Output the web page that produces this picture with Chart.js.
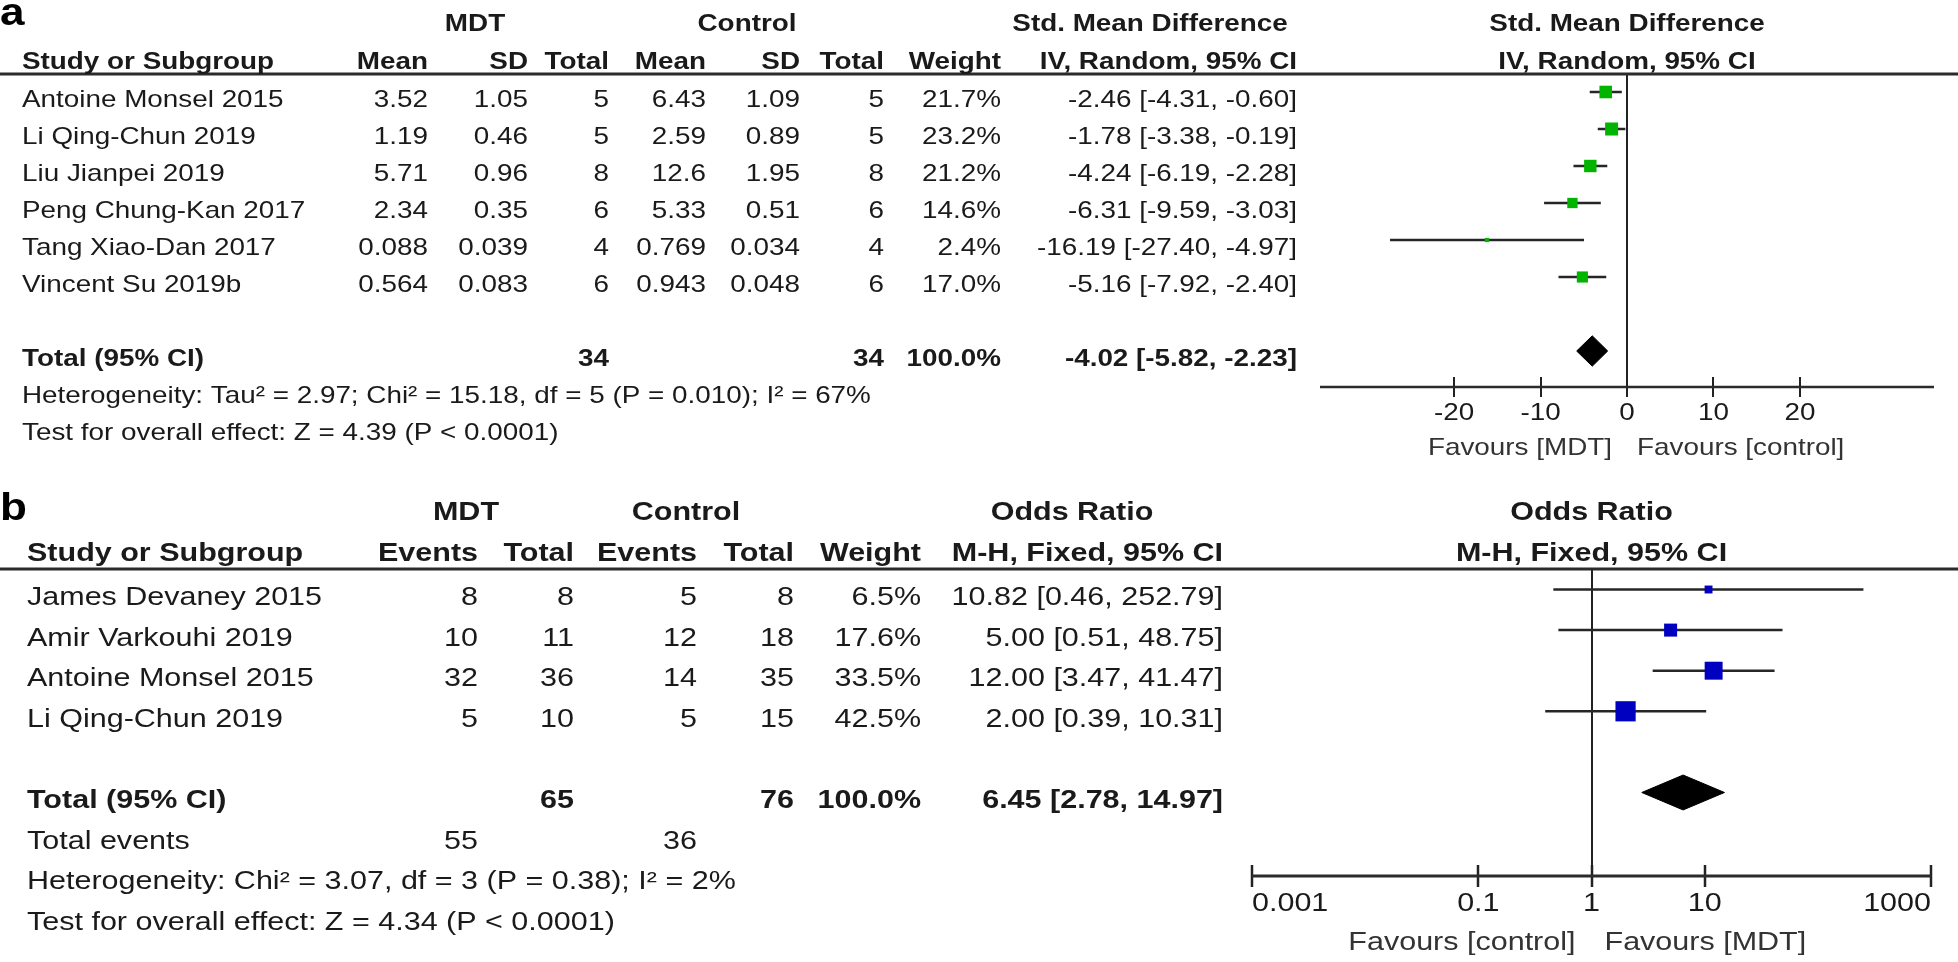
<!DOCTYPE html>
<html><head><meta charset="utf-8">
<script src="https://cdn.jsdelivr.net/npm/chart.js@4.4.0/dist/chart.umd.min.js"></script>
<style>
html,body{margin:0;padding:0;background:#fff;}
#wrap{position:relative;width:1958px;height:962px;overflow:hidden;background:#fff;}
.pan{position:absolute;left:0;width:1958px;}
canvas{display:block;}
</style></head><body>
<div id="wrap">
<div class="pan" style="top:0;height:480px"><canvas id="ca" width="1958" height="480"></canvas></div>
<div class="pan" style="top:480px;height:482px"><canvas id="cb" width="1958" height="482"></canvas></div>
</div>
<script>
// ---------- Panel a data ----------
const studiesA = ['Antoine Monsel 2015','Li Qing-Chun 2019','Liu Jianpei 2019','Peng Chung-Kan 2017','Tang Xiao-Dan 2017','Vincent Su 2019b'];
const mdtMeanA = ['3.52','1.19','5.71','2.34','0.088','0.564'];
const mdtSdA   = ['1.05','0.46','0.96','0.35','0.039','0.083'];
const mdtNA    = [5,5,8,6,4,6];
const ctlMeanA = ['6.43','2.59','12.6','5.33','0.769','0.943'];
const ctlSdA   = ['1.09','0.89','1.95','0.51','0.034','0.048'];
const ctlNA    = [5,5,8,6,4,6];
const weightA  = [21.7,23.2,21.2,14.6,2.4,17.0];
const smdA     = [-2.46,-1.78,-4.24,-6.31,-16.19,-5.16];
const loA      = [-4.31,-3.38,-6.19,-9.59,-27.40,-7.92];
const hiA      = [-0.60,-0.19,-2.28,-3.03,-4.97,-2.40];
const totalA   = [-4.02,-5.82,-2.23]; // estimate, lower, upper
const ticksA   = [-20,-10,0,10,20];
const tickLabelsA = ['-20','-10','0','10','20'];
const hetA  = 'Heterogeneity: Tau\u00B2 = 2.97; Chi\u00B2 = 15.18, df = 5 (P = 0.010); I\u00B2 = 67%';
const testA = 'Test for overall effect: Z = 4.39 (P < 0.0001)';

// ---------- Panel b data ----------
const studiesB = ['James Devaney 2015','Amir Varkouhi 2019','Antoine Monsel 2015','Li Qing-Chun 2019'];
const mdtEvB  = [8,10,32,5];
const mdtNB   = [8,11,36,10];
const ctlEvB  = [5,12,14,5];
const ctlNB   = [8,18,35,15];
const weightB = [6.5,17.6,33.5,42.5];
const orB     = [10.82,5.00,12.00,2.00];
const loB     = [0.46,0.51,3.47,0.39];
const hiB     = [252.79,48.75,41.47,10.31];
const totalB  = [6.45,2.78,14.97];
const ticksB  = [0.001,0.1,1,10,1000];
const tickLabelsB = ['0.001','0.1','1','10','1000'];
const hetB  = 'Heterogeneity: Chi\u00B2 = 3.07, df = 3 (P = 0.38); I\u00B2 = 2%';
const testB = 'Test for overall effect: Z = 4.34 (P < 0.0001)';

// ---------- styling / layout ----------
const SX = 1.16;
const FONT = '"Liberation Sans", Arial, Helvetica, sans-serif';
const INK = '#1a1a1a';
const sum = a => a.reduce((p,c)=>p+c,0);
const f2 = v => v.toFixed(2);
const ciText = (e,l,h) => f2(e)+' ['+f2(l)+', '+f2(h)+']';

function txt(ctx, s, x, y, align, size, bold, color) {
  ctx.save();
  ctx.font = (bold ? 'bold ' : '') + size + 'px ' + FONT;
  ctx.fillStyle = color || INK;
  ctx.textAlign = align;
  ctx.textBaseline = 'middle';
  ctx.scale(SX, 1);
  ctx.fillText(s, x / SX, y);
  ctx.restore();
}
function letter(ctx, s, y) {
  ctx.save();
  ctx.font = 'bold 38px ' + FONT;
  ctx.fillStyle = '#000';
  ctx.textBaseline = 'alphabetic';
  ctx.textAlign = 'left';
  ctx.scale(SX, 1);
  ctx.fillText(s, 0, y);
  ctx.restore();
}

const colA = {m1:428, s1:528, n1:609, m2:706, s2:800, n2:884, w:1001, ci:1297};
const colB = {e1:478, n1:574, e2:697, n2:794, w:921, ci:1223};

function lineSets(est, lo, hi) {
  return est.map((e,i)=>({
    type:'line', data:[{x:lo[i],y:i},{x:hi[i],y:i}],
    borderColor:'#262626', borderWidth:2.5, pointRadius:0, fill:false, order:2
  }));
}
function diamondSets(t, row, h) {
  return [
    {type:'line', data:[{x:t[1],y:row},{x:t[0],y:row-h},{x:t[2],y:row}], borderColor:'#000', borderWidth:1, pointRadius:0, fill:false, order:1},
    {type:'line', data:[{x:t[1],y:row},{x:t[0],y:row+h},{x:t[2],y:row}], borderColor:'#000', borderWidth:1, pointRadius:0, fill:'-1', backgroundColor:'#000', order:1}
  ];
}

// ---------- Panel a ----------
const textA = {
  id:'textA',
  afterDraw(chart) {
    const {ctx, chartArea: ca} = chart; const xs = chart.scales.x, ys = chart.scales.y;
    const F = 24, off = 8;
    const ry = i => ys.getPixelForValue(i) + off;
    ctx.save(); ctx.fillStyle = '#2b2b2b';
    ctx.fillRect(0, ca.top - 1.5, chart.width, 3);
    ctx.fillRect(xs.left, ca.bottom + 10 - 1.25, xs.right - xs.left, 2.5);
    ctx.restore();
    letter(ctx, 'a', 25);
    const pc = (xs.left + xs.right) / 2;
    txt(ctx,'MDT',475,24,'center',F,true);
    txt(ctx,'Control',747,24,'center',F,true);
    txt(ctx,'Std. Mean Difference',1150,24,'center',F,true);
    txt(ctx,'Std. Mean Difference',pc,24,'center',F,true);
    const h2 = 62;
    txt(ctx,'Study or Subgroup',22,h2,'left',F,true);
    txt(ctx,'Mean',colA.m1,h2,'right',F,true);
    txt(ctx,'SD',colA.s1,h2,'right',F,true);
    txt(ctx,'Total',colA.n1,h2,'right',F,true);
    txt(ctx,'Mean',colA.m2,h2,'right',F,true);
    txt(ctx,'SD',colA.s2,h2,'right',F,true);
    txt(ctx,'Total',colA.n2,h2,'right',F,true);
    txt(ctx,'Weight',colA.w,h2,'right',F,true);
    txt(ctx,'IV, Random, 95% CI',colA.ci,h2,'right',F,true);
    txt(ctx,'IV, Random, 95% CI',pc,h2,'center',F,true);
    studiesA.forEach((s,i)=>{
      const y = ry(i);
      txt(ctx,s,22,y,'left',F);
      txt(ctx,mdtMeanA[i],colA.m1,y,'right',F);
      txt(ctx,mdtSdA[i],colA.s1,y,'right',F);
      txt(ctx,String(mdtNA[i]),colA.n1,y,'right',F);
      txt(ctx,ctlMeanA[i],colA.m2,y,'right',F);
      txt(ctx,ctlSdA[i],colA.s2,y,'right',F);
      txt(ctx,String(ctlNA[i]),colA.n2,y,'right',F);
      txt(ctx,weightA[i].toFixed(1)+'%',colA.w,y,'right',F);
      txt(ctx,ciText(smdA[i],loA[i],hiA[i]),colA.ci,y,'right',F);
    });
    const yt = ry(7);
    txt(ctx,'Total (95% CI)',22,yt,'left',F,true);
    txt(ctx,String(sum(mdtNA)),colA.n1,yt,'right',F,true);
    txt(ctx,String(sum(ctlNA)),colA.n2,yt,'right',F,true);
    txt(ctx,'100.0%',colA.w,yt,'right',F,true);
    txt(ctx,ciText(totalA[0],totalA[1],totalA[2]),colA.ci,yt,'right',F,true);
    txt(ctx,hetA,22,ry(8),'left',F);
    txt(ctx,testA,22,ry(9),'left',F);
    ticksA.forEach((v,k)=>txt(ctx,tickLabelsA[k],xs.getPixelForValue(v),413,'center',F));
    const zx = xs.getPixelForValue(0);
    txt(ctx,'Favours [MDT]',zx-15,448,'right',F,false,'#333');
    txt(ctx,'Favours [control]',zx+10,448,'left',F,false,'#333');
  }
};

new Chart(document.getElementById('ca'), {
  type:'scatter',
  data:{ datasets:[
    {data:smdA.map((e,i)=>({x:e,y:i})), pointStyle:'rect',
     pointRadius:weightA.map(w=>2.7*Math.sqrt(w)/Math.SQRT2), pointHoverRadius:weightA.map(w=>2.7*Math.sqrt(w)/Math.SQRT2),
     backgroundColor:'#00b400', borderWidth:0, order:0},
    ...lineSets(smdA, loA, hiA),
    ...diamondSets(totalA, 7, 0.41)
  ]},
  options:{
    responsive:false, animation:false, devicePixelRatio:1, events:[],
    layout:{padding:{left:1320, right:24, top:74, bottom:83}},
    plugins:{legend:{display:false}, tooltip:{enabled:false}},
    scales:{
      x:{type:'linear', min:-35.5, max:35.5,
         afterBuildTicks:s=>{ s.ticks = ticksA.map(v=>({value:v})); },
         afterFit:s=>{ s.height = 20; },
         ticks:{display:false},
         grid:{color:c=>(c.tick && c.tick.value===0)?'#222':'rgba(0,0,0,0)', lineWidth:2,
               drawTicks:true, tickLength:20, tickColor:'#222', tickWidth:2},
         border:{display:false}},
      y:{type:'linear', reverse:true, min:-0.4865, max:7.7027, display:false, afterFit:s=>{ s.width = 0; }}
    }
  },
  plugins:[textA]
});

// ---------- Panel b ----------
const textB = {
  id:'textB',
  afterDraw(chart) {
    const {ctx, chartArea: ca} = chart; const xs = chart.scales.x, ys = chart.scales.y;
    const F = 26.3, off = 8.5;
    const ry = i => ys.getPixelForValue(i) + off;
    ctx.save(); ctx.fillStyle = '#2b2b2b';
    ctx.fillRect(0, ca.top - 1.5, chart.width, 3);
    ctx.fillRect(xs.left, ca.bottom + 11 - 1.5, xs.right - xs.left, 3);
    ctx.restore();
    letter(ctx, 'b', 40);
    const pc = xs.getPixelForValue(1);
    txt(ctx,'MDT',466,33,'center',F,true);
    txt(ctx,'Control',686,33,'center',F,true);
    txt(ctx,'Odds Ratio',1072,33,'center',F,true);
    txt(ctx,'Odds Ratio',pc,33,'center',F,true);
    const h2 = 74;
    txt(ctx,'Study or Subgroup',27,h2,'left',F,true);
    txt(ctx,'Events',colB.e1,h2,'right',F,true);
    txt(ctx,'Total',colB.n1,h2,'right',F,true);
    txt(ctx,'Events',colB.e2,h2,'right',F,true);
    txt(ctx,'Total',colB.n2,h2,'right',F,true);
    txt(ctx,'Weight',colB.w,h2,'right',F,true);
    txt(ctx,'M-H, Fixed, 95% CI',colB.ci,h2,'right',F,true);
    txt(ctx,'M-H, Fixed, 95% CI',pc,h2,'center',F,true);
    studiesB.forEach((s,i)=>{
      const y = ry(i);
      txt(ctx,s,27,y,'left',F);
      txt(ctx,String(mdtEvB[i]),colB.e1,y,'right',F);
      txt(ctx,String(mdtNB[i]),colB.n1,y,'right',F);
      txt(ctx,String(ctlEvB[i]),colB.e2,y,'right',F);
      txt(ctx,String(ctlNB[i]),colB.n2,y,'right',F);
      txt(ctx,weightB[i].toFixed(1)+'%',colB.w,y,'right',F);
      txt(ctx,ciText(orB[i],loB[i],hiB[i]),colB.ci,y,'right',F);
    });
    const yt = ry(5);
    txt(ctx,'Total (95% CI)',27,yt,'left',F,true);
    txt(ctx,String(sum(mdtNB)),colB.n1,yt,'right',F,true);
    txt(ctx,String(sum(ctlNB)),colB.n2,yt,'right',F,true);
    txt(ctx,'100.0%',colB.w,yt,'right',F,true);
    txt(ctx,ciText(totalB[0],totalB[1],totalB[2]),colB.ci,yt,'right',F,true);
    const ye = ry(6);
    txt(ctx,'Total events',27,ye,'left',F);
    txt(ctx,String(sum(mdtEvB)),colB.e1,ye,'right',F);
    txt(ctx,String(sum(ctlEvB)),colB.e2,ye,'right',F);
    txt(ctx,hetB,27,ry(7),'left',F);
    txt(ctx,testB,27,ry(8),'left',F);
    const last = ticksB.length - 1;
    ticksB.forEach((v,k)=>{
      const al = k === 0 ? 'left' : (k === last ? 'right' : 'center');
      txt(ctx,tickLabelsB[k],xs.getPixelForValue(v),424,al,F);
    });
    txt(ctx,'Favours [control]',pc-16,463,'right',F,false,'#333');
    txt(ctx,'Favours [MDT]',pc+13,463,'left',F,false,'#333');
  }
};

new Chart(document.getElementById('cb'), {
  type:'scatter',
  data:{ datasets:[
    {data:orB.map((e,i)=>({x:e,y:i})), pointStyle:'rect',
     pointRadius:weightB.map(w=>3.1*Math.sqrt(w)/Math.SQRT2), pointHoverRadius:weightB.map(w=>3.1*Math.sqrt(w)/Math.SQRT2),
     backgroundColor:'#0000c0', borderWidth:0, order:0},
    ...lineSets(orB, loB, hiB),
    ...diamondSets(totalB, 5, 0.43)
  ]},
  options:{
    responsive:false, animation:false, devicePixelRatio:1, events:[],
    layout:{padding:{left:1252, right:27, top:89, bottom:75}},
    plugins:{legend:{display:false}, tooltip:{enabled:false}},
    scales:{
      x:{type:'logarithmic', min:0.001, max:1000,
         afterBuildTicks:s=>{ s.ticks = ticksB.map(v=>({value:v})); },
         afterFit:s=>{ s.height = 22; },
         ticks:{display:false},
         grid:{color:c=>(c.tick && c.tick.value===1)?'#222':'rgba(0,0,0,0)', lineWidth:2,
               drawTicks:true, tickLength:22, tickColor:'#222', tickWidth:2.5},
         border:{display:false}},
      y:{type:'linear', reverse:true, min:-0.505, max:6.786, display:false, afterFit:s=>{ s.width = 0; }}
    }
  },
  plugins:[textB]
});
</script>
</body></html>
